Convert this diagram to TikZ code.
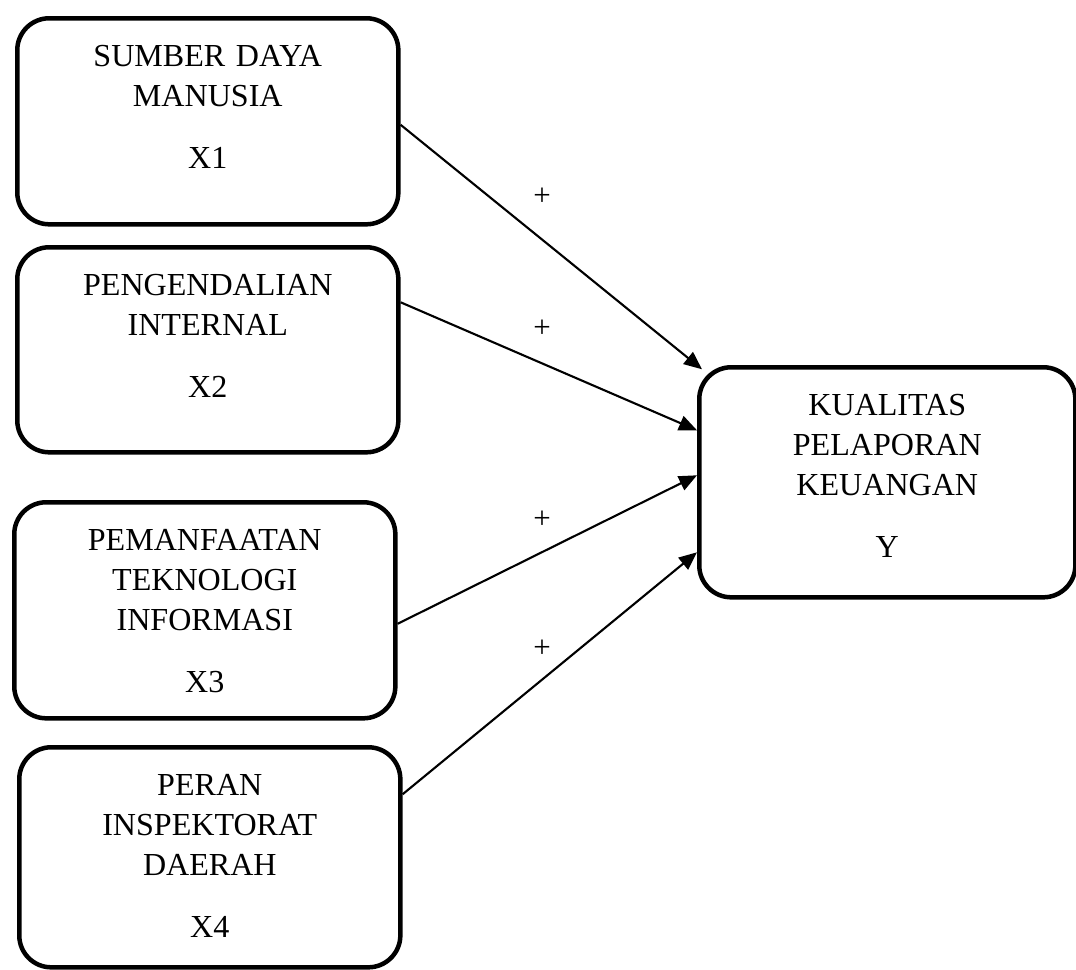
\documentclass[tikz,border=0pt]{standalone}
\usepackage{fontspec}
\setmainfont{Liberation Serif}
\usepackage{tikz}
\usetikzlibrary{arrows.meta,calc}

\begin{document}
\begin{tikzpicture}[x=0.025cm,y=-0.025cm,
        var/.style={draw,line width=3.2pt,rounded corners=0.8cm,inner sep=0pt,anchor=north west,
          align=center,text width=9.525cm,text height=1.2cm,
          font=\fontsize{22.8pt}{28.45pt}\selectfont},
        sign/.style={inner sep=0pt,font=\fontsize{22pt}{24pt}\selectfont},
        link/.style={-{Triangle[length=0.45cm,width=0.38cm]},line width=1.5pt}]
      \useasboundingbox (0,0) rectangle (1076,969);
      \node[var,text depth=3.95cm] (x1) at (15,16) {SUMBER DAYA\\MANUSIA\\[0.55cm]X1};
      \node[var,text depth=3.925cm] (x2) at (15,245) {PENGENDALIAN\\INTERNAL\\[0.55cm]X2};
      \node[var,text depth=4.2cm] (x3) at (12,500) {PEMANFAATAN\\TEKNOLOGI\\INFORMASI\\[0.55cm]X3};
      \node[var,text depth=4.3cm] (x4) at (17,745) {PERAN\\INSPEKTORAT\\DAERAH\\[0.55cm]X4};
      \node[var,text depth=4.55cm,text width=9.4cm] (y) at (697,365) {KUALITAS\\PELAPORAN\\KEUANGAN\\[0.55cm]Y};
      \foreach \s/\a/\e/\b in {x1/3.5/5/-113,x2/-47.5/0/-52,x3/13.5/0/-7,x4/-63/0/70}
        \draw[link] ($(\s.east)+(0,\a)$) -- ($(y.west)+(\e,\b)$);
      \foreach \n/\h in {p1/197,p2/329,p3/520,p4/649}
        \node[sign] (\n) at (542,\h) {+};
    \end{tikzpicture}
\end{document}
